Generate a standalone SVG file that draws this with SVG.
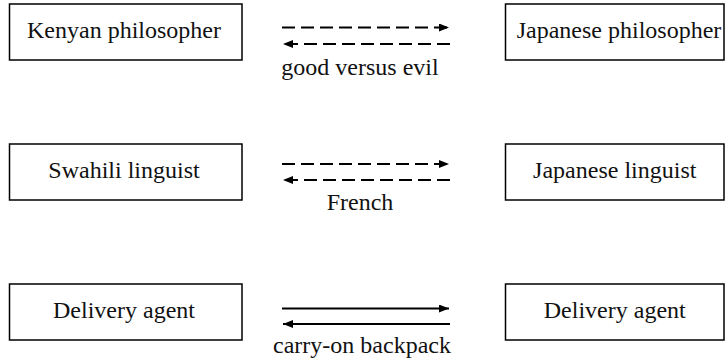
<svg xmlns="http://www.w3.org/2000/svg" width="728" height="364" viewBox="0 0 728 364">
<style>
.box{fill:#fff;stroke:#000;stroke-width:1.5}
.t{font-family:"Liberation Serif","Times New Roman",serif;font-size:24px;fill:#111;text-anchor:middle}
.c{stroke:#000;stroke-width:2;fill:none}
.d{stroke-dasharray:13 6}
</style>
<defs>
<marker id="ah" viewBox="0 0 10 8" refX="10" refY="4" markerWidth="10" markerHeight="8" markerUnits="userSpaceOnUse" orient="auto-start-reverse">
<path d="M0,0 L10,4 L0,8 z" fill="#000"/>
</marker>
</defs>
<rect width="728" height="364" fill="#fff"/>
<g id="kenyan-philosopher"><rect class="box" x="9.5" y="4" width="232.5" height="56"/><text class="t" x="124" y="37.5">Kenyan philosopher</text></g>
<g id="japanese-philosopher"><rect class="box" x="505.5" y="4" width="218.5" height="56"/><text class="t" x="619" y="37.5">Japanese philosopher</text></g>
<g id="swahili-linguist"><rect class="box" x="9.5" y="144" width="232.5" height="56"/><text class="t" x="124" y="177.5">Swahili linguist</text></g>
<g id="japanese-linguist"><rect class="box" x="505.5" y="144" width="218.5" height="56"/><text class="t" x="614.75" y="177.5">Japanese linguist</text></g>
<g id="delivery-agent-left"><rect class="box" x="9.5" y="284" width="232.5" height="56"/><text class="t" x="124" y="317.5">Delivery agent</text></g>
<g id="delivery-agent-right"><rect class="box" x="505.5" y="284" width="218.5" height="56"/><text class="t" x="614.75" y="317.5">Delivery agent</text></g>
<g id="connectors">
<line class="c d" x1="282" y1="27.5" x2="449" y2="27.5" marker-end="url(#ah)"/>
<line class="c d" x1="450" y1="44" x2="283" y2="44" marker-end="url(#ah)"/>
<text class="t" x="360" y="75">good versus evil</text>
<line class="c d" x1="282" y1="164" x2="449" y2="164" marker-end="url(#ah)"/>
<line class="c d" x1="450" y1="180" x2="283" y2="180" marker-end="url(#ah)"/>
<text class="t" x="360" y="210">French</text>
<line class="c" x1="282" y1="308.5" x2="449" y2="308.5" marker-end="url(#ah)"/>
<line class="c" x1="450" y1="324" x2="283" y2="324" marker-end="url(#ah)"/>
<text class="t" x="362" y="352.5">carry-on backpack</text>
</g>
</svg>
